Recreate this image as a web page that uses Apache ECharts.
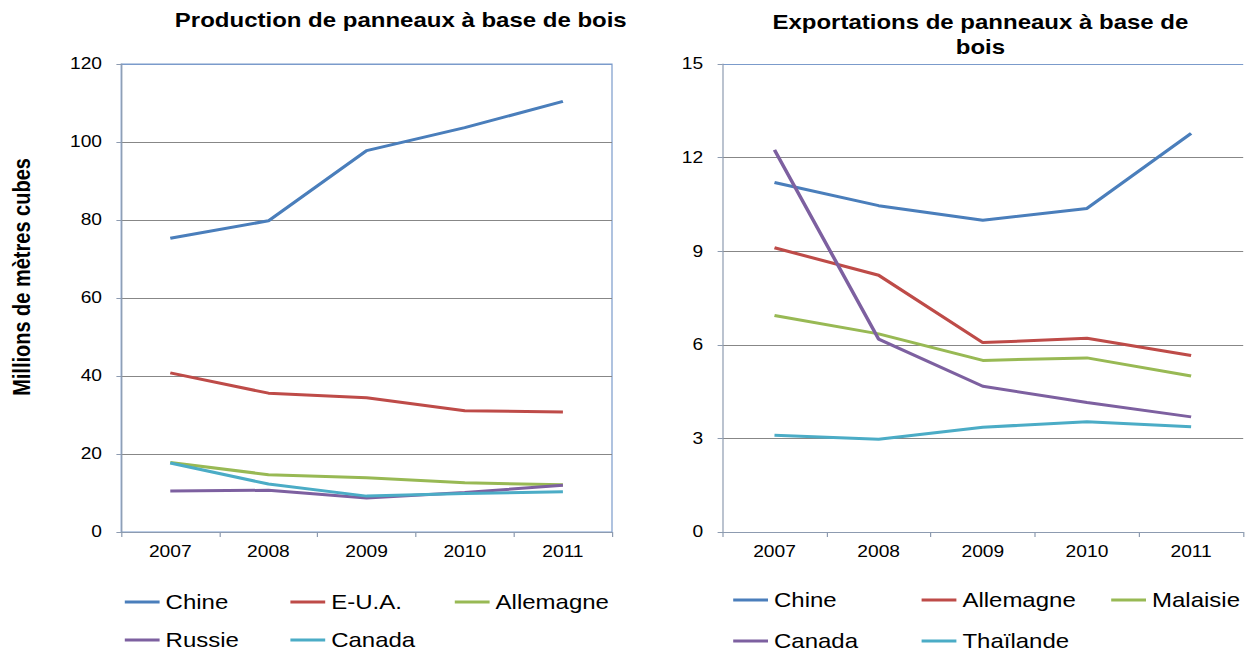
<!DOCTYPE html>
<html>
<head>
<meta charset="utf-8">
<script src="https://cdn.jsdelivr.net/npm/echarts@6/dist/echarts.min.js"></script>
<style>
    html, body { margin: 0; padding: 0; background: #fff; overflow: hidden; }
    /* le graphique d'origine est étiré horizontalement (~1.2) */
    #chart { width: 1040px; height: 653px; transform: scaleX(1.2); transform-origin: 0 0; }
</style>
</head>
<body>
<div id="chart"></div>
<script>
var years = ["2007", "2008", "2009", "2010", "2011"];

// Production (millions de m3)
var prodChine = [75.3, 79.8, 97.8, 103.7, 110.4];
var prodEUA = [40.8, 35.6, 34.4, 31.1, 30.8];
var prodAllemagne = [17.8, 14.7, 13.9, 12.6, 12.1];
var prodRussie = [10.5, 10.7, 8.7, 10.1, 12.0];
var prodCanada = [17.7, 12.3, 9.2, 9.9, 10.3];

// Exportations
var expChine = [11.2, 10.46, 9.99, 10.37, 12.78];
var expAllemagne = [9.11, 8.23, 6.07, 6.21, 5.66];
var expMalaisie = [6.94, 6.35, 5.5, 5.58, 5.0];
var expCanada = [12.25, 6.18, 4.67, 4.15, 3.69];
var expThailande = [3.1, 2.97, 3.36, 3.53, 3.37];

var prodNames = ["Chine", "E-U.A.", "Allemagne", "Russie", "Canada"];
var expNames = ["Chine", "Allemagne", "Malaisie", "Canada", "Thaïlande"];

var BLUE = "#4A7EBB", RED = "#BE4B48", GREEN = "#98B954", PURPLE = "#7D60A0", CYAN = "#4BACC6";
var AXIS = "#8D9BB0", GRIDC = "#878787", BORDER = "#7B9BCB";
var FONT = "Liberation Sans, Arial, sans-serif";

var prodSeries = [
    { name: prodNames[0], data: prodChine, color: BLUE },
    { name: prodNames[1], data: prodEUA, color: RED },
    { name: prodNames[2], data: prodAllemagne, color: GREEN },
    { name: prodNames[3], data: prodRussie, color: PURPLE },
    { name: prodNames[4], data: prodCanada, color: CYAN }
];
var expSeries = [
    { name: expNames[0], data: expChine, color: BLUE },
    { name: expNames[1], data: expAllemagne, color: RED },
    { name: expNames[2], data: expMalaisie, color: GREEN },
    { name: expNames[3], data: expCanada, color: PURPLE },
    { name: expNames[4], data: expThailande, color: CYAN }
];

var makeLine = function (s, prefix, idx) {
    return {
        name: prefix + s.name,
        type: "line",
        xAxisIndex: idx,
        yAxisIndex: idx,
        data: s.data,
        symbol: "none",
        color: s.color,
        lineStyle: { width: 3, color: s.color },
        emphasis: { disabled: true },
        animation: false
    };
};

var series = [];
prodSeries.forEach(function (s) { series.push(makeLine(s, "p|", 0)); });
expSeries.forEach(function (s) { series.push(makeLine(s, "e|", 1)); });

// une légende par élément, placée comme dans l'original
var legendPos = [
    [104, 592], [242, 592], [379, 592], [104, 630], [242, 630],
    [611, 590], [768, 590], [926, 590], [611, 631], [768, 631]
];
var legends = series.map(function (s, i) {
    return {
        data: [{ name: s.name, icon: "rect" }],
        left: legendPos[i][0],
        top: legendPos[i][1],
        padding: 0,
        itemWidth: 29,
        itemHeight: 3,
        itemGap: 0,
        selectedMode: false,
        formatter: function (name) { return name.split("|")[1]; },
        textStyle: { fontFamily: FONT, fontSize: 20, color: "#000" }
    };
});

var xAxisBase = function (idx) {
    return {
        type: "category",
        gridIndex: idx,
        data: years,
        boundaryGap: true,
        axisLine: { lineStyle: { color: AXIS, width: 1 } },
        axisTick: { show: true, length: 5, lineStyle: { color: AXIS } },
        axisLabel: { fontFamily: FONT, fontSize: 16, color: "#000", margin: 12 }
    };
};
var yAxisBase = function (idx, max, interval) {
    var n = max / interval;
    var cols = [];
    for (var i = 0; i < n; i++) cols.push(GRIDC);
    cols.push(BORDER);
    return {
        type: "value",
        gridIndex: idx,
        min: 0,
        max: max,
        interval: interval,
        axisLine: { show: true, lineStyle: { color: AXIS, width: 1 } },
        axisTick: { show: true, length: 4, lineStyle: { color: AXIS } },
        axisLabel: { fontFamily: FONT, fontSize: 16, color: "#000", margin: 16 },
        splitLine: { show: true, lineStyle: { color: cols, width: 1 } }
    };
};

var myChart = echarts.init(document.getElementById("chart"), null, { renderer: "svg" });
myChart.setOption({
    backgroundColor: "#fff",
    animation: false,
    grid: [
        { left: 101, right: 530, top: 64, bottom: 121, show: true, borderColor: BORDER, borderWidth: 1, backgroundColor: "transparent" },
        { left: 602, right: 4, top: 64, bottom: 121 }
    ],
    xAxis: [xAxisBase(0), xAxisBase(1)],
    yAxis: [yAxisBase(0, 120, 20), yAxisBase(1, 15, 3)],
    legend: legends,
    graphic: [
        {
            type: "text", x: 334, y: 10,
            style: { text: "Production de panneaux à base de bois", font: "bold 20px " + FONT, fill: "#000", textAlign: "center" }
        },
        {
            type: "text", x: 817, y: 10,
            style: { text: "Exportations de panneaux à base de\nbois", font: "bold 20px " + FONT, fill: "#000", textAlign: "center", lineHeight: 25 }
        },
        {
            type: "text", x: 18, y: 277, rotation: Math.PI / 2,
            style: { text: "Millions de mètres cubes", font: "bold 20px " + FONT, fill: "#000", textAlign: "center", textVerticalAlign: "middle" }
        }
    ],
    series: series
});
</script>
</body>
</html>
